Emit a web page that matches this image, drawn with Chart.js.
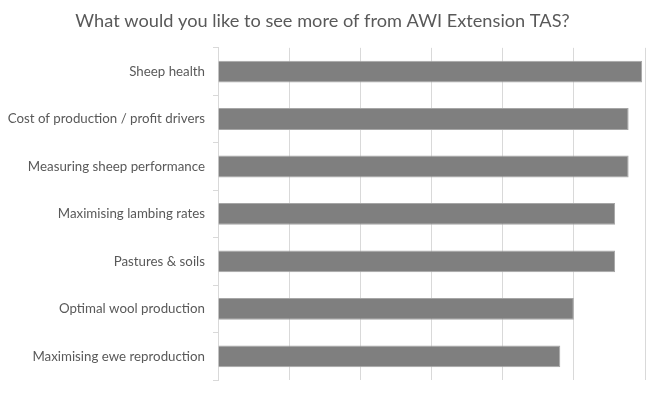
<!DOCTYPE html>
<html>
<head>
<meta charset="utf-8">
<script src="https://cdn.jsdelivr.net/npm/chart.js@4.4.1/dist/chart.umd.min.js"></script>
<style>
  html, body { margin: 0; padding: 0; background: #fff; }
  #wrap { width: 660px; height: 396px; }
</style>
</head>
<body>
<div id="wrap"><canvas id="chart"></canvas></div>
<script>
// survey topics, top to bottom
const topics = [
  'Sheep health',
  'Cost of production / profit drivers',
  'Measuring sheep performance',
  'Maximising lambing rates',
  'Pastures & soils',
  'Optimal wool production',
  'Maximising ewe reproduction'
];
// share of respondents (%)
const shares = [59.6, 57.7, 57.7, 55.8, 55.8, 50.0, 48.1];
const axisMax = 60;
const axisStep = 10;

const fontFamily = 'Lato, "Open Sans", sans-serif';
const textGrey = '#595959';
const lineGrey = '#d9d9d9';

const ctx = document.getElementById('chart').getContext('2d');
new Chart(ctx, {
  type: 'bar',
  data: {
    labels: topics,
    datasets: [{
      data: shares,
      backgroundColor: '#7f7f7f',
      borderColor: '#a6a6a6',
      borderWidth: 1,
      categoryPercentage: 0.92,
      barPercentage: 0.5
    }]
  },
  options: {
    indexAxis: 'y',
    responsive: true,
    maintainAspectRatio: false,
    animation: false,
    layout: { padding: { left: 0, right: 15, top: 0, bottom: 12 } },
    plugins: {
      legend: { display: false },
      tooltip: { enabled: false },
      title: {
        display: true,
        text: 'What would you like to see more of from AWI Extension TAS?',
        color: textGrey,
        font: { family: fontFamily, size: 18.2, weight: 'normal' },
        padding: { top: 10, bottom: 16 }
      }
    },
    scales: {
      x: {
        min: 0,
        max: axisMax,
        ticks: { display: false, stepSize: axisStep },
        grid: { color: lineGrey, drawTicks: false },
        border: { display: false }
      },
      y: {
        afterFit: (scale) => { scale.width = 218; },
        ticks: {
          color: textGrey,
          font: { family: fontFamily, size: 13.3 },
          padding: 8
        },
        grid: { drawOnChartArea: false, color: lineGrey, tickLength: 5 },
        border: { color: lineGrey }
      }
    }
  }
});
</script>
</body>
</html>
